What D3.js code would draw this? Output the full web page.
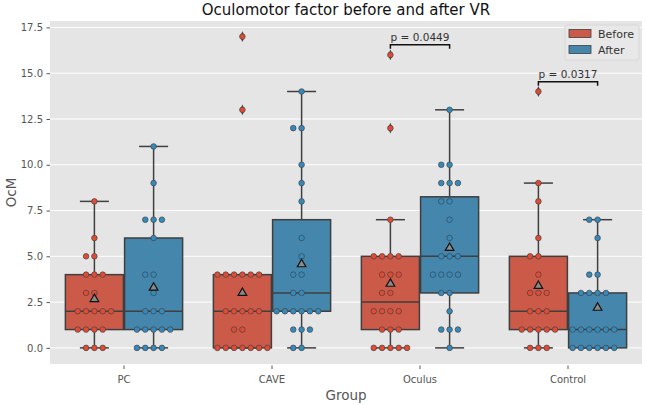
<!DOCTYPE html>
<html><head><meta charset="utf-8">
<script src="https://cdn.jsdelivr.net/npm/d3@7"></script>
<style>body{margin:0;background:#fff}svg{display:block;font-family:"DejaVu Sans",sans-serif}</style>
</head><body>
<svg id="c" width="645" height="405"></svg>
<script>
const categories = ["PC", "CAVE", "Oculus", "Control"];
const hues = ["Before", "After"];
const beforeValues = [
  [0,0,0,1,1,1,1,2,2,2,2,2,3,3,4,4,4,5,5,6,8],
  [0,0,0,0,0,0,0,1,1,2,2,2,2,2,4,4,4,4,4,4,13,17],
  [0,0,0,0,0,1,1,1,2,2,2,2,3,3,4,4,4,5,5,5,5,7,12,16],
  [0,0,0,1,1,1,1,1,2,2,2,3,3,3,4,5,5,6,8,9,14]
];
const afterValues = [
  [0,0,0,0,1,1,1,1,1,2,2,2,3,4,4,6,7,7,7,9,11],
  [0,0,1,1,1,2,2,2,2,2,2,3,3,4,4,5,6,8,9,10,12,12,14],
  [0,1,1,1,2,3,3,4,4,4,4,5,5,5,6,7,8,8,9,9,9,10,10,13],
  [0,0,0,0,0,0,1,1,1,1,1,1,3,3,3,3,4,4,6,7,7]
];
const yTicks = [0, 2.5, 5, 7.5, 10, 12.5, 15, 17.5];
const pCategories = ["Oculus", "Control"];
const pLabels = ["p = 0.0449", "p = 0.0317"];
const pHeights = [16.55, 14.53];
const titleText = "Oculomotor factor before and after VR";
const xLabel = "Group", yLabel = "OcM";

const boxColors = ["#cc5a49", "#4586ac"];
const dotColors = ["#E24A33", "#348ABD"];
const lineCol = "#3f3f3f";

const svg = d3.select("#c");
const L = 50, R = 642, T = 21, B = 364;
const x = d3.scaleBand().domain(categories).range([L, R]);
const y = d3.scaleLinear().domain([-0.88, 17.85]).range([B, T]);
const bw = x.bandwidth();
const hueW = bw * 0.8 / 2;
const hueOff = [-hueW / 2, hueW / 2];
const boxW = hueW * 0.98;

svg.append("rect").attr("x", L).attr("y", T).attr("width", R - L).attr("height", B - T).attr("fill", "#E5E5E5");
svg.append("g").selectAll("line").data(yTicks).join("line")
  .attr("x1", L).attr("x2", R).attr("y1", d => y(d)).attr("y2", d => y(d))
  .attr("stroke", "#fff").attr("stroke-width", 1);

const yAxis = d3.axisLeft(y).tickValues(yTicks).tickFormat(d3.format(".1f")).tickSize(3.5).tickPadding(3.5);
const gy = svg.append("g").attr("transform", `translate(${L},0)`).call(yAxis);
const xAxis = d3.axisBottom(x).tickSize(3.5).tickPadding(3.5);
const gx = svg.append("g").attr("transform", `translate(0,${B + 1.5})`).call(xAxis);
[gx, gy].forEach(g => {
  g.select(".domain").remove();
  g.selectAll("line").attr("stroke", "#555");
  g.selectAll("text").attr("fill", "#555").style("font-size", "10px").style("font-family", "DejaVu Sans");
});
gx.selectAll("text").attr("dy", "1.05em");

svg.append("text").attr("x", (L + R) / 2).attr("y", 15).attr("text-anchor", "middle")
  .style("font-size", "15px").attr("fill", "#111").text(titleText);
svg.append("text").attr("x", (L + R) / 2).attr("y", 400).attr("text-anchor", "middle")
  .style("font-size", "13.5px").attr("fill", "#555").text(xLabel);
svg.append("text").attr("transform", `translate(16,${(T + B) / 2}) rotate(-90)`).attr("text-anchor", "middle")
  .style("font-size", "13.5px").attr("fill", "#555").text(yLabel);

const series = [beforeValues, afterValues];
const boxG = svg.append("g"), dotG = svg.append("g"), meanG = svg.append("g");

series.forEach((vals, h) => {
  categories.forEach((cat, i) => {
    const v = vals[i].slice().sort((a, b) => a - b);
    const cx = x(cat) + bw / 2 + hueOff[h];
    const q1 = d3.quantile(v, 0.25), med = d3.quantile(v, 0.5), q3 = d3.quantile(v, 0.75);
    const iqr = q3 - q1;
    const lo = d3.min(v.filter(d => d >= q1 - 1.5 * iqr));
    const hi = d3.max(v.filter(d => d <= q3 + 1.5 * iqr));
    const g = boxG.append("g");
    g.append("line").attr("x1", cx).attr("x2", cx).attr("y1", y(q3)).attr("y2", y(hi)).attr("stroke", lineCol).attr("stroke-width", 1.5);
    g.append("line").attr("x1", cx).attr("x2", cx).attr("y1", y(q1)).attr("y2", y(lo)).attr("stroke", lineCol).attr("stroke-width", 1.5);
    g.append("line").attr("x1", cx - boxW / 4).attr("x2", cx + boxW / 4).attr("y1", y(hi)).attr("y2", y(hi)).attr("stroke", lineCol).attr("stroke-width", 1.5);
    g.append("line").attr("x1", cx - boxW / 4).attr("x2", cx + boxW / 4).attr("y1", y(lo)).attr("y2", y(lo)).attr("stroke", lineCol).attr("stroke-width", 1.5);
    g.append("rect").attr("x", cx - boxW / 2).attr("y", y(q3)).attr("width", boxW).attr("height", Math.max(0, y(q1) - y(q3)))
      .attr("fill", boxColors[h]).attr("stroke", lineCol).attr("stroke-width", 1.5);
    g.append("line").attr("x1", cx - boxW / 2).attr("x2", cx + boxW / 2).attr("y1", y(med)).attr("y2", y(med)).attr("stroke", lineCol).attr("stroke-width", 1.5);
    v.filter(d => d < lo || d > hi).forEach(d => {
      g.append("path").attr("d", d3.symbol(d3.symbolDiamond, 34)()).attr("transform", `translate(${cx},${y(d)}) scale(0.75,1)`)
        .attr("fill", lineCol);
    });
    const counts = d3.rollup(v, a => a.length, d => d);
    const step = 8.33;
    const order = [0, -1, 1, -2, 2, -3, 3, -4, 4];
    for (const [val, n] of counts) {
      for (let k = 0; k < n; k++) {
        dotG.append("circle").attr("cx", cx + order[k] * step).attr("cy", y(val)).attr("r", 2.8)
          .attr("fill", dotColors[h]).attr("stroke", "#444").attr("stroke-width", 0.7);
      }
    }
    const m = d3.mean(v);
    meanG.append("path").attr("d", d3.symbol(d3.symbolTriangle, 32)()).attr("transform", `translate(${cx},${y(m)})`)
      .attr("fill", "#8a8a8a").attr("stroke", "#111").attr("stroke-width", 1.2);
  });
});

pCategories.forEach((cat, i) => {
  const x1 = x(cat) + bw / 2 + hueOff[0], x2 = x(cat) + bw / 2 + hueOff[1];
  const yy = y(pHeights[i]);
  svg.append("path").attr("d", `M${x1},${yy + 4}V${yy}H${x2}V${yy + 4}`).attr("fill", "none").attr("stroke", "#111").attr("stroke-width", 1.5);
  svg.append("text").attr("x", (x1 + x2) / 2).attr("y", yy - 4).attr("text-anchor", "middle")
    .style("font-size", "10.5px").attr("fill", "#333").text(pLabels[i]);
});

const lg = svg.append("g").attr("transform", "translate(565,25)");
lg.append("rect").attr("width", 74).attr("height", 35).attr("rx", 2).attr("fill", "#E8E8E8").attr("stroke", "#d4d4d4").attr("stroke-width", 0.8);
hues.forEach((h, i) => {
  lg.append("rect").attr("x", 4).attr("y", 4.5 + i * 16).attr("width", 22).attr("height", 8)
    .attr("fill", boxColors[i]).attr("stroke", lineCol).attr("stroke-width", 0.8);
  lg.append("text").attr("x", 33).attr("y", 12.5 + i * 16).style("font-size", "11px").attr("fill", "#333").text(h);
});
</script>
</body></html>
